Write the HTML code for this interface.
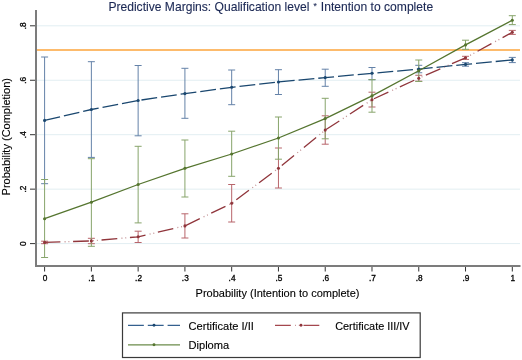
<!DOCTYPE html>
<html><head><meta charset="utf-8"><style>
html,body{margin:0;padding:0;background:#fff;}
body{width:522px;height:360px;overflow:hidden;}
svg{display:block;font-family:"Liberation Sans",sans-serif;will-change:transform;}
text{stroke:#000;stroke-width:0.12px;fill:#000;}
text.k{stroke-width:0.3px;}
text.t{stroke:#1b2854;fill:#1b2854;}
</style></head><body>
<svg width="522" height="360" viewBox="0 0 522 360" fill="#111">
<line x1="37" y1="243.60" x2="520" y2="243.60" stroke="#e2eef2" stroke-width="1"/>
<line x1="37" y1="189.15" x2="520" y2="189.15" stroke="#e2eef2" stroke-width="1"/>
<line x1="37" y1="134.70" x2="520" y2="134.70" stroke="#e2eef2" stroke-width="1"/>
<line x1="37" y1="80.25" x2="520" y2="80.25" stroke="#e2eef2" stroke-width="1"/>
<line x1="37" y1="25.80" x2="520" y2="25.80" stroke="#e2eef2" stroke-width="1"/>
<line x1="37" y1="50" x2="520" y2="50" stroke="#fdbb6c" stroke-width="1.9"/>
<g stroke="#6482a8" stroke-width="1"><line x1="44.60" y1="57" x2="44.60" y2="183.7"/><line x1="41.10" y1="57" x2="48.10" y2="57"/><line x1="41.10" y1="183.7" x2="48.10" y2="183.7"/><line x1="91.37" y1="61.7" x2="91.37" y2="157.4"/><line x1="87.87" y1="61.7" x2="94.87" y2="61.7"/><line x1="87.87" y1="157.4" x2="94.87" y2="157.4"/><line x1="138.14" y1="65.5" x2="138.14" y2="135.8"/><line x1="134.64" y1="65.5" x2="141.64" y2="65.5"/><line x1="134.64" y1="135.8" x2="141.64" y2="135.8"/><line x1="184.91" y1="68.3" x2="184.91" y2="118.3"/><line x1="181.41" y1="68.3" x2="188.41" y2="68.3"/><line x1="181.41" y1="118.3" x2="188.41" y2="118.3"/><line x1="231.68" y1="70" x2="231.68" y2="104.7"/><line x1="228.18" y1="70" x2="235.18" y2="70"/><line x1="228.18" y1="104.7" x2="235.18" y2="104.7"/><line x1="278.45" y1="69.7" x2="278.45" y2="94.5"/><line x1="274.95" y1="69.7" x2="281.95" y2="69.7"/><line x1="274.95" y1="94.5" x2="281.95" y2="94.5"/><line x1="325.22" y1="69.2" x2="325.22" y2="86.3"/><line x1="321.72" y1="69.2" x2="328.72" y2="69.2"/><line x1="321.72" y1="86.3" x2="328.72" y2="86.3"/><line x1="371.99" y1="67.5" x2="371.99" y2="79.7"/><line x1="368.49" y1="67.5" x2="375.49" y2="67.5"/><line x1="368.49" y1="79.7" x2="375.49" y2="79.7"/><line x1="418.76" y1="65.3" x2="418.76" y2="72.75"/><line x1="415.26" y1="65.3" x2="422.26" y2="65.3"/><line x1="415.26" y1="72.75" x2="422.26" y2="72.75"/><line x1="465.53" y1="62.7" x2="465.53" y2="66.2"/><line x1="462.03" y1="62.7" x2="469.03" y2="62.7"/><line x1="462.03" y1="66.2" x2="469.03" y2="66.2"/><line x1="512.30" y1="57.4" x2="512.30" y2="62.6"/><line x1="508.80" y1="57.4" x2="515.80" y2="57.4"/><line x1="508.80" y1="62.6" x2="515.80" y2="62.6"/></g>
<g stroke="#b8656b" stroke-width="1"><line x1="44.60" y1="241.2" x2="44.60" y2="243.7"/><line x1="41.10" y1="241.2" x2="48.10" y2="241.2"/><line x1="41.10" y1="243.7" x2="48.10" y2="243.7"/><line x1="91.37" y1="238.3" x2="91.37" y2="243.7"/><line x1="87.87" y1="238.3" x2="94.87" y2="238.3"/><line x1="87.87" y1="243.7" x2="94.87" y2="243.7"/><line x1="138.14" y1="231.2" x2="138.14" y2="242.5"/><line x1="134.64" y1="231.2" x2="141.64" y2="231.2"/><line x1="134.64" y1="242.5" x2="141.64" y2="242.5"/><line x1="184.91" y1="213.8" x2="184.91" y2="238"/><line x1="181.41" y1="213.8" x2="188.41" y2="213.8"/><line x1="181.41" y1="238" x2="188.41" y2="238"/><line x1="231.68" y1="184.5" x2="231.68" y2="222"/><line x1="228.18" y1="184.5" x2="235.18" y2="184.5"/><line x1="228.18" y1="222" x2="235.18" y2="222"/><line x1="278.45" y1="148" x2="278.45" y2="188"/><line x1="274.95" y1="148" x2="281.95" y2="148"/><line x1="274.95" y1="188" x2="281.95" y2="188"/><line x1="325.22" y1="115.8" x2="325.22" y2="144.2"/><line x1="321.72" y1="115.8" x2="328.72" y2="115.8"/><line x1="321.72" y1="144.2" x2="328.72" y2="144.2"/><line x1="371.99" y1="92.2" x2="371.99" y2="107"/><line x1="368.49" y1="92.2" x2="375.49" y2="92.2"/><line x1="368.49" y1="107" x2="375.49" y2="107"/><line x1="418.76" y1="75.25" x2="418.76" y2="81.15"/><line x1="415.26" y1="75.25" x2="422.26" y2="75.25"/><line x1="415.26" y1="81.15" x2="422.26" y2="81.15"/><line x1="465.53" y1="56.3" x2="465.53" y2="59.4"/><line x1="462.03" y1="56.3" x2="469.03" y2="56.3"/><line x1="462.03" y1="59.4" x2="469.03" y2="59.4"/><line x1="512.30" y1="30.4" x2="512.30" y2="34.4"/><line x1="508.80" y1="30.4" x2="515.80" y2="30.4"/><line x1="508.80" y1="34.4" x2="515.80" y2="34.4"/></g>
<g stroke="#87a46b" stroke-width="1"><line x1="44.60" y1="179.5" x2="44.60" y2="257.5"/><line x1="41.10" y1="179.5" x2="48.10" y2="179.5"/><line x1="41.10" y1="257.5" x2="48.10" y2="257.5"/><line x1="91.37" y1="158.7" x2="91.37" y2="246.3"/><line x1="87.87" y1="158.7" x2="94.87" y2="158.7"/><line x1="87.87" y1="246.3" x2="94.87" y2="246.3"/><line x1="138.14" y1="146.3" x2="138.14" y2="222.9"/><line x1="134.64" y1="146.3" x2="141.64" y2="146.3"/><line x1="134.64" y1="222.9" x2="141.64" y2="222.9"/><line x1="184.91" y1="140" x2="184.91" y2="197"/><line x1="181.41" y1="140" x2="188.41" y2="140"/><line x1="181.41" y1="197" x2="188.41" y2="197"/><line x1="231.68" y1="131.2" x2="231.68" y2="176.3"/><line x1="228.18" y1="131.2" x2="235.18" y2="131.2"/><line x1="228.18" y1="176.3" x2="235.18" y2="176.3"/><line x1="278.45" y1="117" x2="278.45" y2="159.2"/><line x1="274.95" y1="117" x2="281.95" y2="117"/><line x1="274.95" y1="159.2" x2="281.95" y2="159.2"/><line x1="325.22" y1="98.3" x2="325.22" y2="138.8"/><line x1="321.72" y1="98.3" x2="328.72" y2="98.3"/><line x1="321.72" y1="138.8" x2="328.72" y2="138.8"/><line x1="371.99" y1="79.7" x2="371.99" y2="112.2"/><line x1="368.49" y1="79.7" x2="375.49" y2="79.7"/><line x1="368.49" y1="112.2" x2="375.49" y2="112.2"/><line x1="418.76" y1="60" x2="418.76" y2="81.5"/><line x1="415.26" y1="60" x2="422.26" y2="60"/><line x1="415.26" y1="81.5" x2="422.26" y2="81.5"/><line x1="465.53" y1="40.2" x2="465.53" y2="49.3"/><line x1="462.03" y1="40.2" x2="469.03" y2="40.2"/><line x1="462.03" y1="49.3" x2="469.03" y2="49.3"/><line x1="512.30" y1="15.7" x2="512.30" y2="24.6"/><line x1="508.80" y1="15.7" x2="515.80" y2="15.7"/><line x1="508.80" y1="24.6" x2="515.80" y2="24.6"/></g>
<polyline points="44.60,120.4 91.37,109.5 138.14,100.5 184.91,93.6 231.68,87.3 278.45,82 325.22,77.6 371.99,73.3 418.76,69.1 465.53,64.4 512.30,59.9" fill="none" stroke="#1a476f" stroke-width="1.3" stroke-dasharray="15.85 3.95"/>
<circle cx="44.60" cy="120.4" r="1.55" fill="#1a476f"/><circle cx="91.37" cy="109.5" r="1.55" fill="#1a476f"/><circle cx="138.14" cy="100.5" r="1.55" fill="#1a476f"/><circle cx="184.91" cy="93.6" r="1.55" fill="#1a476f"/><circle cx="231.68" cy="87.3" r="1.55" fill="#1a476f"/><circle cx="278.45" cy="82" r="1.55" fill="#1a476f"/><circle cx="325.22" cy="77.6" r="1.55" fill="#1a476f"/><circle cx="371.99" cy="73.3" r="1.55" fill="#1a476f"/><circle cx="418.76" cy="69.1" r="1.55" fill="#1a476f"/><circle cx="465.53" cy="64.4" r="1.55" fill="#1a476f"/><circle cx="512.30" cy="59.9" r="1.55" fill="#1a476f"/>
<polyline points="44.60,242.4 91.37,240.9 138.14,236.8 184.91,225.9 231.68,203.3 278.45,168.2 325.22,130.1 371.99,99.7 418.76,78.2 465.53,57.8 512.30,32.3" fill="none" stroke="#90353b" stroke-width="1.3" stroke-dasharray="15.8 12.7"/>
<polyline opacity="0.55" points="44.60,242.4 91.37,240.9 138.14,236.8 184.91,225.9 231.68,203.3 278.45,168.2 325.22,130.1 371.99,99.7 418.76,78.2 465.53,57.8 512.30,32.3" fill="none" stroke="#90353b" stroke-width="1.3" stroke-dasharray="0 20 1 2.8 1 3.7"/>
<circle cx="44.60" cy="242.4" r="1.55" fill="#90353b"/><circle cx="91.37" cy="240.9" r="1.55" fill="#90353b"/><circle cx="138.14" cy="236.8" r="1.55" fill="#90353b"/><circle cx="184.91" cy="225.9" r="1.55" fill="#90353b"/><circle cx="231.68" cy="203.3" r="1.55" fill="#90353b"/><circle cx="278.45" cy="168.2" r="1.55" fill="#90353b"/><circle cx="325.22" cy="130.1" r="1.55" fill="#90353b"/><circle cx="371.99" cy="99.7" r="1.55" fill="#90353b"/><circle cx="418.76" cy="78.2" r="1.55" fill="#90353b"/><circle cx="465.53" cy="57.8" r="1.55" fill="#90353b"/><circle cx="512.30" cy="32.3" r="1.55" fill="#90353b"/>
<polyline points="44.60,218.7 91.37,202.2 138.14,184.5 184.91,168.3 231.68,154 278.45,138 325.22,118.6 371.99,95.9 418.76,70.75 465.53,44.9 512.30,20.2" fill="none" stroke="#55752f" stroke-width="1.3"/>
<circle cx="44.60" cy="218.7" r="1.55" fill="#55752f"/><circle cx="91.37" cy="202.2" r="1.55" fill="#55752f"/><circle cx="138.14" cy="184.5" r="1.55" fill="#55752f"/><circle cx="184.91" cy="168.3" r="1.55" fill="#55752f"/><circle cx="231.68" cy="154" r="1.55" fill="#55752f"/><circle cx="278.45" cy="138" r="1.55" fill="#55752f"/><circle cx="325.22" cy="118.6" r="1.55" fill="#55752f"/><circle cx="371.99" cy="95.9" r="1.55" fill="#55752f"/><circle cx="418.76" cy="70.75" r="1.55" fill="#55752f"/><circle cx="465.53" cy="44.9" r="1.55" fill="#55752f"/><circle cx="512.30" cy="20.2" r="1.55" fill="#55752f"/>
<line x1="36" y1="10" x2="36" y2="267" stroke="#7c7c7c" stroke-width="2"/>
<line x1="35" y1="266" x2="520.5" y2="266" stroke="#7c7c7c" stroke-width="2"/>
<line x1="30" y1="243.60" x2="35" y2="243.60" stroke="#333" stroke-width="1"/>
<text x="0" y="0" transform="translate(25.5,243.60) rotate(-90)" text-anchor="middle" font-size="8.3" class="k">0</text>
<line x1="30" y1="189.15" x2="35" y2="189.15" stroke="#333" stroke-width="1"/>
<text x="0" y="0" transform="translate(25.5,189.15) rotate(-90)" text-anchor="middle" font-size="8.3" class="k">.2</text>
<line x1="30" y1="134.70" x2="35" y2="134.70" stroke="#333" stroke-width="1"/>
<text x="0" y="0" transform="translate(25.5,134.70) rotate(-90)" text-anchor="middle" font-size="8.3" class="k">.4</text>
<line x1="30" y1="80.25" x2="35" y2="80.25" stroke="#333" stroke-width="1"/>
<text x="0" y="0" transform="translate(25.5,80.25) rotate(-90)" text-anchor="middle" font-size="8.3" class="k">.6</text>
<line x1="30" y1="25.80" x2="35" y2="25.80" stroke="#333" stroke-width="1"/>
<text x="0" y="0" transform="translate(25.5,25.80) rotate(-90)" text-anchor="middle" font-size="8.3" class="k">.8</text>
<line x1="44.60" y1="267" x2="44.60" y2="271.5" stroke="#333" stroke-width="1"/>
<text x="45.00" y="281" text-anchor="middle" font-size="8.3" class="k">0</text>
<line x1="91.37" y1="267" x2="91.37" y2="271.5" stroke="#333" stroke-width="1"/>
<text x="91.77" y="281" text-anchor="middle" font-size="8.3" class="k">.1</text>
<line x1="138.14" y1="267" x2="138.14" y2="271.5" stroke="#333" stroke-width="1"/>
<text x="138.54" y="281" text-anchor="middle" font-size="8.3" class="k">.2</text>
<line x1="184.91" y1="267" x2="184.91" y2="271.5" stroke="#333" stroke-width="1"/>
<text x="185.31" y="281" text-anchor="middle" font-size="8.3" class="k">.3</text>
<line x1="231.68" y1="267" x2="231.68" y2="271.5" stroke="#333" stroke-width="1"/>
<text x="232.08" y="281" text-anchor="middle" font-size="8.3" class="k">.4</text>
<line x1="278.45" y1="267" x2="278.45" y2="271.5" stroke="#333" stroke-width="1"/>
<text x="278.85" y="281" text-anchor="middle" font-size="8.3" class="k">.5</text>
<line x1="325.22" y1="267" x2="325.22" y2="271.5" stroke="#333" stroke-width="1"/>
<text x="325.62" y="281" text-anchor="middle" font-size="8.3" class="k">.6</text>
<line x1="371.99" y1="267" x2="371.99" y2="271.5" stroke="#333" stroke-width="1"/>
<text x="372.39" y="281" text-anchor="middle" font-size="8.3" class="k">.7</text>
<line x1="418.76" y1="267" x2="418.76" y2="271.5" stroke="#333" stroke-width="1"/>
<text x="419.16" y="281" text-anchor="middle" font-size="8.3" class="k">.8</text>
<line x1="465.53" y1="267" x2="465.53" y2="271.5" stroke="#333" stroke-width="1"/>
<text x="465.93" y="281" text-anchor="middle" font-size="8.3" class="k">.9</text>
<line x1="512.30" y1="267" x2="512.30" y2="271.5" stroke="#333" stroke-width="1"/>
<text x="512.70" y="281" text-anchor="middle" font-size="8.3" class="k">1</text>
<text x="277.5" y="297" text-anchor="middle" font-size="11">Probability (Intention to complete)</text>
<text transform="translate(10.1,136.75) rotate(-90)" text-anchor="middle" font-size="11">Probability (Completion)</text>
<text x="270.75" y="10.7" text-anchor="middle" font-size="12.1" class="t">Predictive Margins: Qualification level <tspan font-size="8.6" dy="-2.2" dx="0.7">*</tspan><tspan dy="2.2" dx="0.7"> Intention to complete</tspan></text>
<rect x="122.5" y="312.9" width="297.7" height="44.6" fill="#fff" stroke="#3a3a3a" stroke-width="1.2"/>
<line x1="128" y1="325.3" x2="180" y2="325.3" stroke="#34608e" stroke-width="1.15" stroke-dasharray="15.85 3.95"/>
<circle cx="154" cy="325.3" r="1.45" fill="#1a476f"/>
<line x1="275" y1="325.3" x2="321" y2="325.3" stroke="#a4474e" stroke-width="1.15" stroke-dasharray="15.8 12.7"/>
<line x1="275" y1="325.3" x2="321" y2="325.3" stroke="#a4474e" opacity="0.55" stroke-width="1.15" stroke-dasharray="0 20 1 2.8 1 3.7"/>
<circle cx="301" cy="325.3" r="1.45" fill="#90353b"/>
<line x1="128" y1="344.8" x2="180" y2="344.8" stroke="#6b8b4a" stroke-width="1.15"/>
<circle cx="154" cy="344.8" r="1.45" fill="#55752f"/>
<text x="188.5" y="330.1" font-size="11.1">Certificate I/II</text>
<text x="335.2" y="330.1" font-size="10.9">Certificate III/IV</text>
<text x="188.5" y="349.3" font-size="11.1">Diploma</text>
</svg>
</body></html>
